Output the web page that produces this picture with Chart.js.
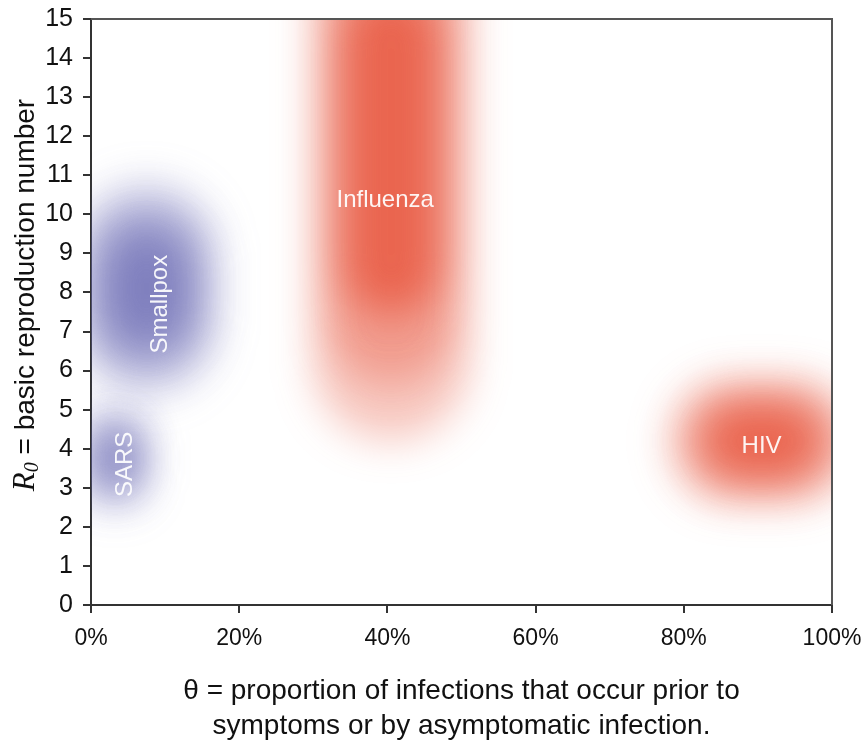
<!DOCTYPE html>
<html>
<head>
<meta charset="utf-8">
<script src="https://cdn.jsdelivr.net/npm/chart.js@4/dist/chart.umd.min.js"></script>
<style>
  html, body { margin: 0; padding: 0; background: #fff; }
  #wrap { width: 868px; height: 744px; }
</style>
</head>
<body>
<div id="wrap"><canvas id="chart" width="868" height="744"></canvas></div>
<script>
// diseases and the estimated range of theta (%) and R0 for each
var diseases = ['SARS', 'Smallpox', 'Influenza', 'HIV'];
var thetaLow = [-1, -2, 30, 78];
var thetaHigh = [7.5, 17, 51, 103];
var r0Low = [2.5, 5.4, 4.2, 2.6];
var r0High = [5.0, 10.8, 19, 5.8];
// where the name sits inside each cloud
var labelTheta = [4.6, 9.3, 39.7, 90.5];
var labelR0 = [3.6, 7.7, 10.35, 4.05];
var labelRotated = [true, true, false, false];
var blobColors = ['104,104,178', '104,104,178', '230,72,46', '230,72,46'];

var xTicks = [0, 20, 40, 60, 80, 100];

// soft layers: how much each is shrunk and how opaque it is
var layerShrink = [0, 0.1, 0.22];
var layerAlpha = [0.3, 0.35, 0.65];

function blobShape(ctx, x, y, w, h){
    var r = Math.min(w, h) / 2;
    ctx.beginPath();
    ctx.roundRect(x, y, w, h, r);
    ctx.fill();
}

var blobPlugin = {
    id: 'blobs',
    beforeDatasetsDraw: function(chart){
        var ctx = chart.ctx;
        var area = chart.chartArea;
        var xs = chart.scales.x;
        var ys = chart.scales.y;
        ctx.save();
        ctx.beginPath();
        ctx.rect(area.left, area.top, area.right - area.left, area.bottom - area.top);
        ctx.clip();
        diseases.forEach(function(name, i){
            var x1 = xs.getPixelForValue(thetaLow[i]);
            var x2 = xs.getPixelForValue(thetaHigh[i]);
            var y1 = ys.getPixelForValue(r0High[i]);
            var y2 = ys.getPixelForValue(r0Low[i]);
            var w = x2 - x1, h = y2 - y1;
            var c = blobColors[i];
            ctx.save();
            ctx.filter = 'blur(20px)';
            layerShrink.forEach(function(s, k){
                var sx = w * s * 0.9, sy = h * s;
                ctx.fillStyle = 'rgba(' + c + ',' + layerAlpha[k] + ')';
                blobShape(ctx, x1 + sx, y1 + sy, w - 2 * sx, h - 2 * sy);
            });
            ctx.restore();
        });
        ctx.restore();

        // names
        ctx.save();
        ctx.fillStyle = 'rgba(255,255,255,0.93)';
        ctx.font = '24px "Liberation Sans", Arial, sans-serif';
        ctx.textAlign = 'center';
        ctx.textBaseline = 'middle';
        diseases.forEach(function(name, i){
            var px = xs.getPixelForValue(labelTheta[i]);
            var py = ys.getPixelForValue(labelR0[i]);
            ctx.save();
            ctx.translate(px, py);
            if(labelRotated[i]) ctx.rotate(-Math.PI / 2);
            ctx.fillText(name, 0, 0);
            ctx.restore();
        });
        ctx.restore();
    },
    afterDraw: function(chart){
        var ctx = chart.ctx;
        var area = chart.chartArea;
        // top and right frame
        ctx.save();
        ctx.strokeStyle = '#555';
        ctx.lineWidth = 2;
        ctx.beginPath();
        ctx.moveTo(area.left, area.top);
        ctx.lineTo(area.right, area.top);
        ctx.lineTo(area.right, area.bottom);
        ctx.stroke();
        ctx.restore();

        // y axis title: R0 = basic reproduction number
        ctx.save();
        var mid = 295;
        ctx.translate(26, mid);
        ctx.rotate(-Math.PI / 2);
        ctx.fillStyle = '#111';
        ctx.textBaseline = 'middle';
        ctx.textAlign = 'left';
        var fR = 'italic 31px "Liberation Serif", "Times New Roman", serif';
        var fSub = 'italic 20px "Liberation Serif", "Times New Roman", serif';
        var fMain = '28px "Liberation Sans", Arial, sans-serif';
        var rest = ' = basic reproduction number';
        ctx.font = fR; var wR = ctx.measureText('R').width;
        ctx.font = fSub; var wS = ctx.measureText('0').width;
        ctx.font = fMain; var wM = ctx.measureText(rest).width;
        var x0 = -(wR + wS + wM) / 2;
        ctx.font = fR; ctx.fillText('R', x0, 0);
        ctx.font = fSub; ctx.fillText('0', x0 + wR, 7);
        ctx.font = fMain; ctx.fillText(rest, x0 + wR + wS, 0);
        ctx.restore();
    }
};

var datasets = diseases.map(function(name, i){
    return {
        label: name,
        data: [{x: (thetaLow[i] + thetaHigh[i]) / 2, y: (r0Low[i] + r0High[i]) / 2}],
        pointRadius: 0,
        pointHoverRadius: 0
    };
});

var chart = new Chart(document.getElementById('chart').getContext('2d'), {
    type: 'scatter',
    data: { datasets: datasets },
    plugins: [blobPlugin],
    options: {
        responsive: false,
        animation: false,
        events: [],
        layout: { padding: { top: 19, right: 36, left: 0, bottom: 0 } },
        plugins: { legend: { display: false }, tooltip: { enabled: false } },
        scales: {
            x: {
                type: 'linear',
                min: 0,
                max: 100,
                afterFit: function(scale){
                    scale.height = 139;
                    scale.paddingLeft = 0;
                    scale.paddingRight = 0;
                },
                afterBuildTicks: function(scale){
                    scale.ticks = xTicks.map(function(v){ return {value: v}; });
                },
                border: { color: '#333', width: 2 },
                grid: { drawOnChartArea: false, tickLength: 8, color: '#333', lineWidth: 2 },
                ticks: {
                    padding: 12,
                    color: '#111',
                    font: { family: '"Liberation Sans", Arial, sans-serif', size: 23 },
                    callback: function(v){ return v + '%'; }
                },
                title: {
                    display: true,
                    text: ['\u03b8 = proportion of infections that occur prior to', 'symptoms or by asymptomatic infection.'],
                    color: '#111',
                    font: { family: '"Liberation Sans", Arial, sans-serif', size: 28, lineHeight: 1.25 },
                    padding: { top: 0, bottom: 0 }
                }
            },
            y: {
                min: 0,
                max: 15,
                afterFit: function(scale){
                    scale.width = 91;
                    scale.paddingTop = 0;
                    scale.paddingBottom = 0;
                },
                border: { color: '#333', width: 2 },
                grid: { drawOnChartArea: false, tickLength: 8, color: '#333', lineWidth: 2 },
                ticks: {
                    stepSize: 1,
                    padding: 10,
                    color: '#111',
                    font: { family: '"Liberation Sans", Arial, sans-serif', size: 25 }
                }
            }
        }
    }
});
</script>
</body>
</html>
